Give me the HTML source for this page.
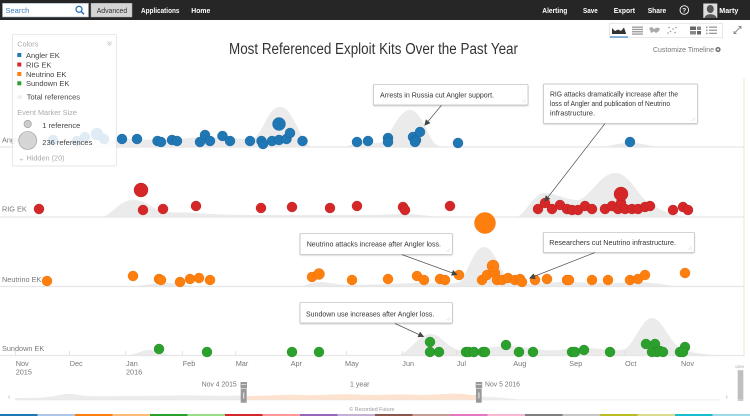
<!DOCTYPE html>
<html><head><meta charset="utf-8">
<style>
html,body{margin:0;padding:0;background:#fff;}
#w{position:relative;width:750px;height:416px;overflow:hidden;font-family:"Liberation Sans",sans-serif;}
svg{position:absolute;left:0;top:0;}
</style></head>
<body><div id="w">
<svg width="750" height="416" viewBox="0 0 750 416" xmlns="http://www.w3.org/2000/svg" font-family="Liberation Sans, sans-serif">
<defs>
<marker id="ah" markerWidth="6" markerHeight="6" refX="5" refY="3" orient="auto" markerUnits="userSpaceOnUse"><path d="M0,0 L6,3 L0,6 z" fill="#444"/></marker>
<filter id="sh" x="-5%" y="-20%" width="110%" height="150%"><feDropShadow dx="0" dy="1" stdDeviation="0.8" flood-color="#000" flood-opacity="0.18"/></filter>
</defs>
<!-- nav bar -->
<rect x="0" y="0" width="750" height="20" fill="#262626"/>
<rect x="2.5" y="3.3" width="86" height="13.7" fill="#fff" stroke="#9ab" stroke-width="0.6"/>
<text x="5.5" y="13" font-size="7.5" fill="#3a7cc0">Search</text>
<circle cx="79" cy="9.3" r="3" fill="none" stroke="#2a6fb8" stroke-width="1.3"/>
<line x1="81.2" y1="11.5" x2="84" y2="14.3" stroke="#2a6fb8" stroke-width="1.5"/>
<rect x="91" y="3.3" width="41" height="13.7" fill="#d4d4d4" stroke="#aaa" stroke-width="0.5"/>
<text x="96.7" y="13" font-size="7.5" fill="#333" textLength="30.5" lengthAdjust="spacingAndGlyphs">Advanced</text>
<g font-size="7.5" fill="#fff" font-weight="bold">
<text x="141" y="13" textLength="38.5" lengthAdjust="spacingAndGlyphs">Applications</text>
<text x="191.3" y="13" textLength="19" lengthAdjust="spacingAndGlyphs">Home</text>
<text x="542.3" y="13" textLength="25" lengthAdjust="spacingAndGlyphs">Alerting</text>
<text x="583" y="13" textLength="14.7" lengthAdjust="spacingAndGlyphs">Save</text>
<text x="613.7" y="13" textLength="21.3" lengthAdjust="spacingAndGlyphs">Export</text>
<text x="647.7" y="13" textLength="18.6" lengthAdjust="spacingAndGlyphs">Share</text>
<text x="719.3" y="13" textLength="19" lengthAdjust="spacingAndGlyphs">Marty</text>
</g>
<circle cx="684.3" cy="10" r="4.3" fill="none" stroke="#fff" stroke-width="0.9"/>
<text x="684.3" y="12.6" font-size="6.5" fill="#fff" text-anchor="middle" font-weight="bold">?</text>
<rect x="703.3" y="3.5" width="14" height="14.5" fill="#ddd"/>
<ellipse cx="710.3" cy="9" rx="3.5" ry="4" fill="#555"/>
<path d="M704.5,18 C705,13 716,13 716.5,18 Z" fill="#555"/>

<!-- title -->
<text x="229" y="54" font-size="15.5" fill="#333" textLength="289" lengthAdjust="spacingAndGlyphs">Most Referenced Exploit Kits Over the Past Year</text>

<!-- toolbar -->
<rect x="609.5" y="23.3" width="113" height="14.4" fill="#fff" stroke="#ddd" stroke-width="0.7"/>
<path d="M612,33.5 L612,28 L615,31 L618,29.5 L621,31 L624,27.5 L626,33.5 Z" fill="#333"/>
<line x1="612" y1="33.6" x2="626" y2="33.6" stroke="#333" stroke-width="0.8"/>
<line x1="610" y1="37" x2="628" y2="37" stroke="#4a90d0" stroke-width="1.2"/>
<g fill="#999">
<rect x="632" y="26.5" width="11" height="1.3"/><rect x="632" y="28.8" width="11" height="1.3"/><rect x="632" y="31.1" width="11" height="1.3"/><rect x="632" y="33.4" width="11" height="1.3"/>
<path d="M649,28 L652,27 L654,29 L657,27.5 L660,28.5 L659,31 L656,33 L654,31.5 L651,33 L650,30 Z" fill="#aaa"/>
<circle cx="669" cy="27.5" r="0.8"/><circle cx="673" cy="29" r="0.8"/><circle cx="670.5" cy="31.5" r="0.8"/><circle cx="676" cy="27.5" r="0.8"/><circle cx="675" cy="32.5" r="0.8"/><circle cx="668" cy="33" r="0.8"/>
<rect x="690" y="26.5" width="6" height="3.5" fill="#666"/><rect x="697" y="26.5" width="4" height="3.5" fill="#888"/><rect x="690" y="31" width="6" height="3.5" fill="#888"/><rect x="697" y="31" width="4" height="3.5" fill="#666"/>
<rect x="706" y="26.5" width="1.6" height="1.5"/><rect x="709" y="26.5" width="8" height="1.3"/><rect x="706" y="29.6" width="1.6" height="1.5"/><rect x="709" y="29.6" width="8" height="1.3"/><rect x="706" y="32.7" width="1.6" height="1.5"/><rect x="709" y="32.7" width="8" height="1.3"/>
</g>
<g stroke="#888" stroke-width="0.9" fill="none"><line x1="734" y1="33.5" x2="741" y2="26.5"/><path d="M738.5,26.5 L741,26.5 L741,29"/><path d="M734,31 L734,33.5 L736.5,33.5"/></g>
<text x="653" y="52" font-size="7" fill="#777" textLength="61" lengthAdjust="spacingAndGlyphs">Customize Timeline</text>
<circle cx="718" cy="49.5" r="2.6" fill="#777"/><circle cx="718" cy="49.5" r="1" fill="#fff"/>

<!-- right yellow line -->
<line x1="744" y1="78" x2="744" y2="356" stroke="#f4efd6" stroke-width="1.5"/>

<!-- gray "total references" areas -->
<g fill="#ebebeb">
<!-- Angler base 147 -->
<path d="M90,147 C105,147 110,139 125,139 C140,139 150,140 165,140 C180,140 190,137 205,137 C220,137 230,138 245,139 C255,140 258,135 262,128 C268,117 272,107 280,107 C288,107 292,117 298,128 C302,138 306,147 315,147 Z"/>
<path d="M340,147 C350,147 355,142 365,142 C375,142 380,145 385,140 C392,130 400,110 410,110 C420,110 426,130 432,140 C436,146 440,147 448,147 Z"/>
<path d="M595,147 C610,147 615,143 630,143 C645,143 650,147 665,147 Z"/>
<!-- RIG base 217 -->
<path d="M100,217 C112,217 118,200 133,200 C148,200 152,210 165,212 C178,213 185,212 195,213 C210,214 230,215 260,215 C300,215 330,215 360,215 C380,215 390,214 405,214 C420,214 430,217 450,217 Z"/>
<path d="M515,217 C525,217 532,193 545,193 C556,193 565,200 578,200 C590,198 600,173 615,173 C628,173 635,190 645,200 C655,206 665,215 690,217 Z"/>
<!-- Neutrino base 287 -->
<path d="M120,287 C140,287 150,283 165,283 C180,283 190,287 210,287 Z"/>
<path d="M290,287 C305,287 310,282 320,282 C330,282 335,285 350,285 C380,285 400,283 420,283 C440,283 450,285 460,282 C468,272 474,247 484,247 C494,247 500,270 508,280 C515,286 530,284 560,282 C580,282 600,284 640,282 C660,283 675,287 690,287 Z"/>
<!-- Sundown base 356 -->
<path d="M120,356 C135,356 140,350 150,350 C160,350 165,356 180,356 Z"/>
<path d="M395,356 C408,356 418,334 430,334 C442,334 446,348 460,350 C475,351 490,346 510,346 C528,346 540,352 560,350 C570,348 575,348 585,348 C600,348 615,352 625,349 C635,343 642,318 652,318 C662,318 668,340 680,348 C692,354 710,355 740,356 Z"/>
</g>

<!-- row lines -->
<g stroke="#e6e6e6" stroke-width="1.3">
<line x1="0" y1="147" x2="744" y2="147"/>
<line x1="0" y1="217" x2="744" y2="217"/>
<line x1="0" y1="286.5" x2="744" y2="286.5"/>
<line x1="0" y1="355.5" x2="744" y2="355.5"/>
</g>
<g stroke="#dcdcdc" stroke-width="0.8">
<line x1="15.5" y1="351" x2="15.5" y2="355"/><line x1="69.5" y1="351" x2="69.5" y2="355"/><line x1="125.7" y1="351" x2="125.7" y2="355"/><line x1="182.3" y1="351" x2="182.3" y2="355"/><line x1="235.7" y1="351" x2="235.7" y2="355"/><line x1="290.7" y1="351" x2="290.7" y2="355"/><line x1="346.7" y1="351" x2="346.7" y2="355"/><line x1="402.3" y1="351" x2="402.3" y2="355"/><line x1="456.7" y1="351" x2="456.7" y2="355"/><line x1="513.3" y1="351" x2="513.3" y2="355"/><line x1="569.3" y1="351" x2="569.3" y2="355"/><line x1="625" y1="351" x2="625" y2="355"/><line x1="681" y1="351" x2="681" y2="355"/>
</g>

<!-- row labels -->
<g font-size="7.3" fill="#777">
<text x="2" y="142.5">Angler EK</text>
<text x="2" y="211.5">RIG EK</text>
<text x="2" y="282">Neutrino EK</text>
<text x="2" y="351">Sundown EK</text>
</g>

<!-- Angler dots -->
<g fill="#1f77b4" stroke="#17609a" stroke-width="0.4">
<circle cx="53" cy="140" r="5"/><circle cx="77" cy="141" r="5"/><circle cx="85" cy="137" r="5"/><circle cx="97" cy="134" r="6"/><circle cx="104" cy="139" r="5"/>
<circle cx="122" cy="139" r="5"/><circle cx="137" cy="139" r="5"/><circle cx="157.5" cy="141" r="5"/><circle cx="161" cy="142" r="5"/><circle cx="172" cy="140" r="5"/><circle cx="177" cy="141" r="5"/><circle cx="200" cy="142" r="5"/><circle cx="205" cy="135" r="5"/><circle cx="210" cy="141" r="5"/><circle cx="222.5" cy="136" r="5"/><circle cx="230" cy="141" r="5"/><circle cx="250" cy="141" r="5"/><circle cx="261.5" cy="141" r="5"/><circle cx="263" cy="144" r="5"/><circle cx="272" cy="141" r="5"/><circle cx="279" cy="140" r="5"/><circle cx="286.5" cy="139" r="5"/><circle cx="290" cy="133" r="5"/><circle cx="279" cy="124" r="6.5"/><circle cx="302.5" cy="141" r="5"/><circle cx="357" cy="142" r="5"/><circle cx="368" cy="141" r="5"/><circle cx="388" cy="138" r="5"/><circle cx="388" cy="142" r="5"/><circle cx="413" cy="137" r="5"/><circle cx="416" cy="140" r="5"/><circle cx="415" cy="142" r="5"/><circle cx="420" cy="132" r="5"/><circle cx="458" cy="143" r="5"/><circle cx="630" cy="142" r="5"/>
</g>
<!-- RIG dots -->
<g fill="#d62728" stroke="#b01e1f" stroke-width="0.4">
<circle cx="39" cy="209" r="5"/><circle cx="141" cy="190" r="7"/><circle cx="143" cy="210" r="5"/><circle cx="163" cy="209" r="5"/><circle cx="196" cy="206" r="5"/><circle cx="261" cy="208" r="5"/><circle cx="292" cy="207" r="5"/><circle cx="330" cy="208" r="5"/><circle cx="357" cy="206" r="5"/><circle cx="403" cy="207" r="5"/><circle cx="405" cy="210" r="5"/><circle cx="450" cy="206" r="5"/>
<circle cx="538" cy="209" r="5"/><circle cx="545" cy="203" r="5"/><circle cx="552" cy="209" r="5"/><circle cx="560" cy="205" r="5"/><circle cx="567" cy="209" r="5"/><circle cx="572" cy="210" r="5"/><circle cx="578" cy="210" r="5"/><circle cx="585" cy="206" r="5"/><circle cx="592" cy="209" r="5"/><circle cx="605" cy="209" r="5"/><circle cx="612" cy="206" r="5"/><circle cx="618" cy="209" r="5"/><circle cx="621" cy="203" r="5"/><circle cx="621" cy="194" r="7"/><circle cx="625" cy="209" r="5"/><circle cx="632" cy="209" r="5"/><circle cx="638" cy="209" r="5"/><circle cx="645" cy="207" r="5"/><circle cx="650" cy="206" r="5"/><circle cx="673" cy="210" r="5"/><circle cx="683" cy="207" r="5"/><circle cx="688" cy="210" r="5"/>
</g>
<circle cx="485" cy="223" r="10.5" fill="#ff7f0e" stroke="#e06c05" stroke-width="0.4"/>
<!-- Neutrino dots -->
<g fill="#ff7f0e" stroke="#e06c05" stroke-width="0.4">
<circle cx="47" cy="281" r="5"/><circle cx="133" cy="276" r="5"/><circle cx="159" cy="279" r="5"/><circle cx="161" cy="280" r="5"/><circle cx="180" cy="282" r="5"/><circle cx="190" cy="279" r="5"/><circle cx="199" cy="278" r="5"/><circle cx="210" cy="280" r="5"/><circle cx="312" cy="277" r="5"/><circle cx="319" cy="274" r="5.5"/><circle cx="352" cy="280" r="5"/><circle cx="388" cy="279" r="5"/><circle cx="417" cy="276" r="5"/><circle cx="424" cy="280" r="5"/><circle cx="440" cy="279" r="5"/><circle cx="445" cy="280" r="5"/><circle cx="459" cy="275" r="5"/><circle cx="482" cy="280" r="5"/><circle cx="487" cy="275" r="5"/><circle cx="495" cy="273" r="5"/><circle cx="493" cy="266" r="6"/><circle cx="497" cy="280" r="5"/><circle cx="502" cy="280" r="5"/><circle cx="508" cy="278" r="5"/><circle cx="515" cy="280" r="5"/><circle cx="520" cy="279" r="5"/><circle cx="522" cy="282" r="5"/><circle cx="535" cy="280" r="5"/><circle cx="547" cy="279" r="5"/><circle cx="567" cy="280" r="5"/><circle cx="569" cy="280" r="5"/><circle cx="592" cy="280" r="5"/><circle cx="608" cy="280" r="5"/><circle cx="630" cy="280" r="5"/><circle cx="638" cy="279" r="5"/><circle cx="645" cy="275" r="5"/><circle cx="685" cy="273" r="5"/>
</g>
<!-- Sundown dots -->
<g fill="#2ca02c" stroke="#228522" stroke-width="0.4">
<circle cx="159" cy="349" r="5"/><circle cx="207" cy="352" r="5"/><circle cx="292" cy="352" r="5"/><circle cx="319" cy="352" r="5"/><circle cx="430" cy="342" r="5"/><circle cx="430" cy="352" r="5"/><circle cx="439" cy="352" r="5"/><circle cx="466" cy="352" r="5"/><circle cx="469" cy="352" r="5"/><circle cx="474" cy="352" r="5"/><circle cx="483" cy="352" r="5"/><circle cx="485" cy="352" r="5"/><circle cx="506" cy="345" r="5"/><circle cx="519" cy="352" r="5"/><circle cx="533" cy="352" r="5"/><circle cx="572" cy="352" r="5"/><circle cx="575" cy="352" r="5"/><circle cx="584" cy="350" r="5"/><circle cx="610" cy="352" r="5"/><circle cx="646" cy="344" r="5"/><circle cx="655" cy="344" r="5"/><circle cx="652" cy="352" r="5"/><circle cx="657" cy="352" r="5"/><circle cx="660" cy="351" r="5"/><circle cx="663" cy="352" r="5"/><circle cx="680" cy="352" r="5"/><circle cx="685" cy="347" r="5"/><circle cx="683" cy="352" r="5"/>
</g>

<!-- annotations -->
<g stroke="#555" stroke-width="0.7" marker-end="url(#ah)">
<line x1="441.7" y1="105" x2="425" y2="125"/>
<line x1="605" y1="123.5" x2="545" y2="201"/>
<line x1="401.7" y1="254.5" x2="456.7" y2="274.5"/>
<line x1="595" y1="252.5" x2="530" y2="278"/>
<line x1="395" y1="323.5" x2="423.3" y2="336.5"/>
</g>
<g fill="#fff" stroke="#bbb" stroke-width="0.7" filter="url(#sh)">
<rect x="373.5" y="84.3" width="154.5" height="20.7" rx="1"/>
<rect x="543.5" y="84" width="154" height="39.3" rx="1"/>
<rect x="300" y="233.3" width="152.3" height="21" rx="1"/>
<rect x="543.3" y="232.3" width="151" height="20" rx="1"/>
<rect x="300" y="302.3" width="152.3" height="20.7" rx="1"/>
</g>
<g stroke="#ccc" stroke-width="0.5">
<line x1="522" y1="102.5" x2="525.5" y2="99"/><line x1="524" y1="102.5" x2="525.5" y2="101"/>
<line x1="691.5" y1="120.8" x2="695" y2="117.3"/><line x1="693.5" y1="120.8" x2="695" y2="119.3"/>
<line x1="446.3" y1="252" x2="449.8" y2="248.5"/><line x1="448.3" y1="252" x2="449.8" y2="250.5"/>
<line x1="688.3" y1="249.8" x2="691.8" y2="246.3"/><line x1="690.3" y1="249.8" x2="691.8" y2="248.3"/>
<line x1="446.3" y1="320.5" x2="449.8" y2="317"/><line x1="448.3" y1="320.5" x2="449.8" y2="319"/>
</g>
<g font-size="7.3" fill="#333">
<text x="380" y="97.5" textLength="114" lengthAdjust="spacingAndGlyphs">Arrests in Russia cut Angler support.</text>
<text x="550" y="96.5" textLength="128" lengthAdjust="spacingAndGlyphs">RIG attacks dramatically increase after the</text>
<text x="550" y="106" textLength="120" lengthAdjust="spacingAndGlyphs">loss of Angler and publication of Neutrino</text>
<text x="550" y="115.5" textLength="45" lengthAdjust="spacingAndGlyphs">infrastructure.</text>
<text x="306.7" y="246.5" textLength="134.3" lengthAdjust="spacingAndGlyphs">Neutrino attacks increase after Angler loss.</text>
<text x="549.3" y="245" textLength="126.7" lengthAdjust="spacingAndGlyphs">Researchers cut Neutrino infrastructure.</text>
<text x="306" y="316.5" textLength="128.3" lengthAdjust="spacingAndGlyphs">Sundown use increases after Angler loss.</text>
</g>

<!-- axis labels -->
<g font-size="7.3" fill="#777">
<text x="15.7" y="366">Nov</text><text x="15.7" y="374.5">2015</text>
<text x="69.7" y="366">Dec</text>
<text x="126" y="366">Jan</text><text x="126" y="374.5">2016</text>
<text x="182.7" y="366">Feb</text>
<text x="235.7" y="366">Mar</text>
<text x="290.7" y="366">Apr</text>
<text x="345" y="366">May</text>
<text x="402.3" y="366">Jun</text>
<text x="456.7" y="366">Jul</text>
<text x="513.3" y="366">Aug</text>
<text x="569.3" y="366">Sep</text>
<text x="625" y="366">Oct</text>
<text x="681" y="366">Nov</text>
</g>

<!-- legend (over angler row) -->
<rect x="12.5" y="34.3" width="103.8" height="131.7" rx="1.5" fill="#fff" fill-opacity="0.86" stroke="#ddd" stroke-width="0.7"/>
<text x="17.3" y="46.5" font-size="7.3" fill="#aaa">Colors</text>
<path d="M107.5,41.5 L109.5,43.3 L111.5,41.5 M107.5,43.5 L109.5,45.3 L111.5,43.5" stroke="#bbb" stroke-width="0.7" fill="none"/>
<rect x="17.3" y="53" width="4" height="4" fill="#1f77b4"/>
<rect x="17.3" y="62.5" width="4" height="4" fill="#d62728"/>
<rect x="17.3" y="72" width="4" height="4" fill="#ff7f0e"/>
<rect x="17.3" y="81.3" width="4" height="4" fill="#2ca02c"/>
<g font-size="7.5" fill="#444">
<text x="26" y="58">Angler EK</text>
<text x="26" y="67.5">RIG EK</text>
<text x="26" y="77">Neutrino EK</text>
<text x="26" y="86">Sundown EK</text>
<text x="26.7" y="99.5">Total references</text>
<text x="42.3" y="128">1 reference</text>
<text x="42.3" y="145">236 references</text>
</g>
<rect x="17.5" y="95.5" width="4.5" height="3" fill="#eee"/>
<text x="17.3" y="115" font-size="7.3" fill="#aaa">Event Marker Size</text>
<circle cx="27.7" cy="124" r="3.7" fill="#ccc" stroke="#999" stroke-width="0.6"/>
<circle cx="27.7" cy="140.5" r="9" fill="#ccc" fill-opacity="0.8" stroke="#999" stroke-width="0.6"/>
<text x="18.3" y="160.5" font-size="7.3" fill="#aaa">⌄ Hidden (20)</text>

<!-- navigator -->
<text x="201.7" y="386.7" font-size="7" fill="#777" textLength="35" lengthAdjust="spacingAndGlyphs">Nov 4 2015</text>
<text x="350" y="386.7" font-size="7" fill="#777" textLength="19.5" lengthAdjust="spacingAndGlyphs">1 year</text>
<text x="485" y="386.7" font-size="7" fill="#777" textLength="35" lengthAdjust="spacingAndGlyphs">Nov 5 2016</text>
<g fill="#999"><rect x="240.5" y="382" width="6.5" height="6.5"/><rect x="475.7" y="382" width="6.5" height="6.5"/></g>
<g fill="#fff"><rect x="241.3" y="384" width="5" height="0.6"/><rect x="476.5" y="384" width="5" height="0.6"/></g>
<path d="M15,400 L15,398 C30,398 45,398 55,396 C62,394 70,393 78,395 C95,397 110,396 130,396 C160,396 175,395 200,395.5 C220,396 230,396 241,395.5 L241,400 Z" fill="#ececec"/>
<path d="M247,400 L247,396 C270,396 285,394 300,395 C320,396 340,393 365,395 C390,395 400,394 420,395 C440,395 455,392 470,395 L476,395 L476,400 Z" fill="#fde3cf"/>
<path d="M482,400 L482,396.5 C495,397 505,398 520,399.5 L720,399.5 L720,400 Z" fill="#eee"/>
<line x1="15" y1="400" x2="720" y2="400" stroke="#e4e4e4" stroke-width="0.6"/>
<rect x="240.7" y="389" width="6" height="13.7" fill="#999" rx="0.5"/>
<rect x="243.2" y="392.5" width="1" height="6" fill="#eee"/>
<rect x="476" y="389" width="5.7" height="13.7" fill="#999" rx="0.5"/>
<rect x="478.4" y="392.5" width="1" height="6" fill="#eee"/>
<text x="8" y="399" font-size="7" fill="#aaa">‹</text>
<text x="725.5" y="399" font-size="7" fill="#aaa">›</text>
<text x="735" y="368" font-size="3.5" fill="#999">100%</text>
<rect x="737.7" y="370" width="5.6" height="31" fill="#ccc"/>
<g stroke="#999" stroke-width="0.5">
<line x1="737.7" y1="372" x2="743.3" y2="372"/><line x1="737.7" y1="374" x2="743.3" y2="374"/><line x1="737.7" y1="376" x2="743.3" y2="376"/><line x1="737.7" y1="378" x2="743.3" y2="378"/><line x1="737.7" y1="380" x2="743.3" y2="380"/><line x1="737.7" y1="382" x2="743.3" y2="382"/><line x1="737.7" y1="384" x2="743.3" y2="384"/><line x1="737.7" y1="386" x2="743.3" y2="386"/><line x1="737.7" y1="388" x2="743.3" y2="388"/><line x1="737.7" y1="390" x2="743.3" y2="390"/><line x1="737.7" y1="392" x2="743.3" y2="392"/><line x1="737.7" y1="394" x2="743.3" y2="394"/><line x1="737.7" y1="396" x2="743.3" y2="396"/><line x1="737.7" y1="398" x2="743.3" y2="398"/>
</g>
<text x="349.3" y="411" font-size="5.3" fill="#999">© Recorded Future</text>

<!-- color stripe -->
<g>
<rect x="0" y="414" width="37.5" height="2" fill="#1f77b4"/><rect x="37.5" y="414" width="37.5" height="2" fill="#aec7e8"/><rect x="75" y="414" width="37.5" height="2" fill="#ff7f0e"/><rect x="112.5" y="414" width="37.5" height="2" fill="#ffbb78"/><rect x="150" y="414" width="37.5" height="2" fill="#2ca02c"/><rect x="187.5" y="414" width="37.5" height="2" fill="#98df8a"/><rect x="225" y="414" width="37.5" height="2" fill="#d62728"/><rect x="262.5" y="414" width="37.5" height="2" fill="#ff9896"/><rect x="300" y="414" width="37.5" height="2" fill="#9467bd"/><rect x="337.5" y="414" width="37.5" height="2" fill="#c5b0d5"/><rect x="375" y="414" width="37.5" height="2" fill="#8c564b"/><rect x="412.5" y="414" width="37.5" height="2" fill="#c49c94"/><rect x="450" y="414" width="37.5" height="2" fill="#e377c2"/><rect x="487.5" y="414" width="37.5" height="2" fill="#f7b6d2"/><rect x="525" y="414" width="37.5" height="2" fill="#7f7f7f"/><rect x="562.5" y="414" width="37.5" height="2" fill="#c7c7c7"/><rect x="600" y="414" width="37.5" height="2" fill="#bcbd22"/><rect x="637.5" y="414" width="37.5" height="2" fill="#dbdb8d"/><rect x="675" y="414" width="37.5" height="2" fill="#17becf"/><rect x="712.5" y="414" width="37.5" height="2" fill="#9edae5"/>
</g>
</svg>
</div></body></html>
